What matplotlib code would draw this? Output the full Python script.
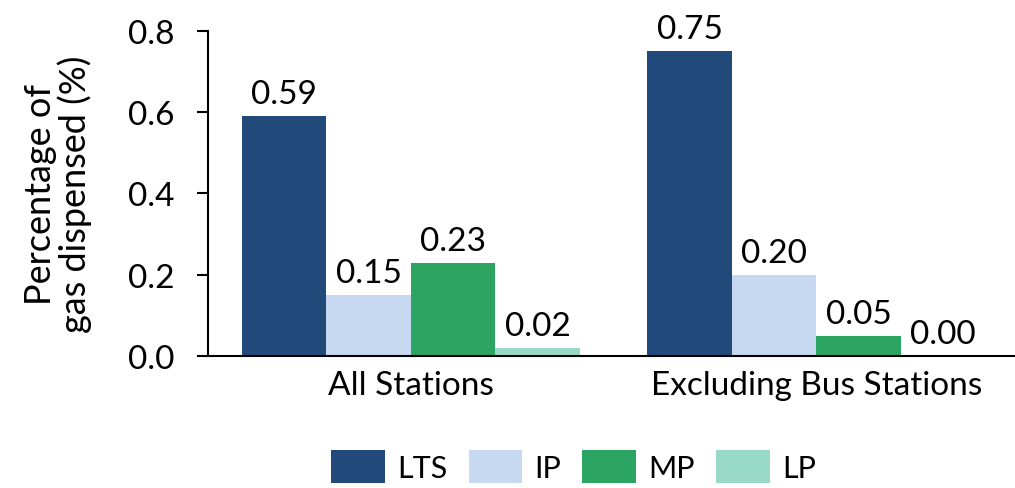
import matplotlib
matplotlib.use("Agg")
import matplotlib.pyplot as plt
import numpy as np

plt.rcParams['font.family'] = ['Lato', 'DejaVu Sans']

categories = ["All Stations", "Excluding Bus Stations"]
series_names = ["LTS", "IP", "MP", "LP"]
lts = [0.59, 0.75]
ip = [0.15, 0.20]
mp = [0.23, 0.05]
lp = [0.02, 0.00]
colors = ["#214A7B", "#C6D9F0", "#2CA462", "#99D9C8"]
yticks = [0.0, 0.2, 0.4, 0.6, 0.8]

FS = 24

fig = plt.figure(figsize=(10.15, 4.89), dpi=100)
ax = fig.add_axes([0.205, 0.270, 0.799, 0.6646])

x = np.arange(len(categories))
width = 0.2085
all_series = [lts, ip, mp, lp]
handles = []
for i, (vals, name, col) in enumerate(zip(all_series, series_names, colors)):
    pos = x + (i - 1.5) * width
    bars = ax.bar(pos, vals, width=width, color=col, label=name)
    handles.append(bars)
    for xp, v in zip(pos, vals):
        ax.annotate(f"{v:.2f}", xy=(xp, v), xytext=(0, 5),
                    textcoords="offset points", ha="center", va="bottom",
                    fontsize=FS, color="black")

ax.set_xlim(-0.5, 1.5)
ax.set_ylim(0, 0.8)
ax.set_yticks(yticks)
ax.set_yticklabels([f"{t:.1f}" for t in yticks], fontsize=FS)
ax.set_xticks(x)
ax.set_xticklabels(categories, fontsize=FS)
ax.tick_params(axis='x', length=0, pad=10)
ax.tick_params(axis='y', length=8, width=1.5, direction='out', pad=16)
for s in ["top", "right"]:
    ax.spines[s].set_visible(False)
for s in ["left", "bottom"]:
    ax.spines[s].set_linewidth(1.5)
    ax.spines[s].set_color("black")

ax.set_ylabel("Percentage of\ngas dispensed (%)", fontsize=26, labelpad=26,
              linespacing=1.0)

fig.legend(handles=handles, labels=series_names, loc="lower center",
           bbox_to_anchor=(0.565, -0.045), ncol=4, frameon=False, fontsize=22,
           handlelength=1.75, handleheight=1.25, handletextpad=0.4,
           columnspacing=0.7)

fig.savefig("out.png", dpi=100)
